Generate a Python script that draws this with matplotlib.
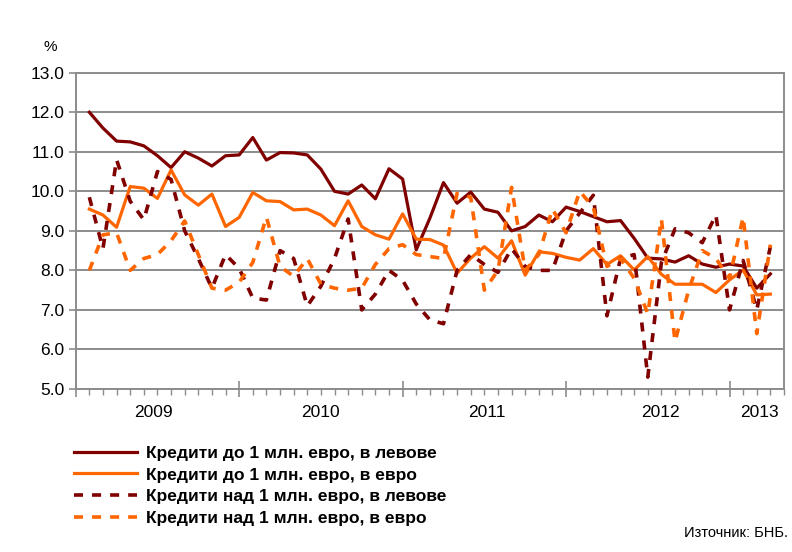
import numpy as np
import matplotlib.pyplot as plt

plt.rcParams['font.family'] = ['Liberation Sans', 'DejaVu Sans']

# monthly observations, positions 1..51 on the category axis
months = np.arange(1, 52)

lev_small = [12.0, 11.6, 11.27, 11.25, 11.15, 10.9, 10.6, 11.0, 10.84, 10.64,
             10.9, 10.92, 11.36, 10.79, 10.98, 10.97, 10.92, 10.56, 10.0, 9.93,
             10.16, 9.81, 10.57, 10.31, 8.52, 9.32, 10.22, 9.70, 9.98, 9.55,
             9.47, 9.0, 9.11, 9.40, 9.23, 9.6, 9.49, 9.36, 9.23, 9.26,
             8.81, 8.31, 8.29, 8.21, 8.37, 8.16, 8.08, 8.16, 8.11, 7.55, 7.91]

eur_small = [9.55, 9.40, 9.09, 10.12, 10.08, 9.82, 10.54, 9.91, 9.65, 9.93,
             9.11, 9.34, 9.97, 9.76, 9.74, 9.53, 9.55, 9.40, 9.13, 9.76,
             9.11, 8.90, 8.79, 9.43, 8.79, 8.78, 8.64, 7.93, 8.31, 8.60,
             8.31, 8.75, 7.88, 8.47, 8.43, 8.33, 8.26, 8.55, 8.15, 8.37,
             8.01, 8.35, 7.90, 7.65, 7.65, 7.65, 7.44, 7.76, 8.01, 7.38, 7.40]

lev_big = [9.85, 8.55, 10.8, 9.75, 9.28, 10.5, 10.3, 9.0, 8.3, 7.55,
           8.4, 8.05, 7.3, 7.25, 8.5, 8.3, 7.1, 7.6, 8.3, 9.3,
           7.0, 7.4, 8.0, 7.75, 7.15, 6.75, 6.65, 8.0, 8.4, 8.15,
           7.95, 8.55, 8.1, 8.0, 8.0, 9.0, 9.45, 9.9, 6.85, 8.3,
           8.4, 5.3, 8.2, 9.05, 8.95, 8.7, 9.4, 7.0, 8.25, 7.0, 8.6]

eur_big = [8.0, 8.9, 8.95, 8.0, 8.3, 8.4, 8.75, 9.25, 8.4, 7.55,
           7.5, 7.7, 8.2, 9.35, 8.1, 7.85, 8.3, 7.65, 7.55, 7.5,
           7.55, 8.15, 8.55, 8.65, 8.4, 8.35, 8.3, 9.95, 9.85, 7.5,
           8.0, 10.1, 8.0, 8.4, 9.55, 8.95, 10.0, 9.6, 8.1, 8.3,
           7.8, 6.9, 9.3, 6.2, 7.5, 8.5, 8.3, 7.8, 9.35, 6.4, 8.65]

labels = ['Кредити до 1 млн. евро, в левове',
          'Кредити до 1 млн. евро, в евро',
          'Кредити над 1 млн. евро, в левове',
          'Кредити над 1 млн. евро, в евро']
years = ['2009', '2010', '2011', '2012', '2013']
year_pos = [5.7, 18.0, 30.2, 42.9, 50.2]

dark = '#800000'
orange = '#ff6600'
grid_col = '#8c8c8c'

fig = plt.figure(figsize=(7.92, 5.52), dpi=100)
ax = fig.add_axes([0.0956, 0.2953, 0.8943, 0.573])

ax.plot(months, lev_small, color=dark, lw=2.3, label=labels[0], zorder=3)
ax.plot(months, eur_small, color=orange, lw=2.3, label=labels[1], zorder=4)
ax.plot(months, lev_big, color=dark, lw=2.6, ls=(0, (2.5, 2.5)),
        label=labels[2], zorder=5)
ax.plot(months, eur_big, color=orange, lw=2.6, ls=(0, (2.5, 2.5)),
        label=labels[3], zorder=6)

ax.set_xlim(0, 52)
ax.set_ylim(5, 13)
ax.set_yticks(np.arange(5, 13.5, 1))
ax.set_yticklabels(['%.1f' % v for v in np.arange(5, 13.5, 1)], fontsize=12.5)
ax.yaxis.grid(True, color=grid_col, lw=1.4)
ax.set_axisbelow(True)
ax.tick_params(axis='y', length=5, color=grid_col, width=1.2, pad=3)

ax.set_xticks([0, 12, 24, 36, 48])
ax.set_xticks(np.arange(0, 53), minor=True)
ax.set_xticklabels([])
ax.tick_params(axis='x', which='major', direction='inout', length=11,
               color=grid_col, width=1.2)
ax.tick_params(axis='x', which='minor', direction='out', length=4.5,
               color=grid_col, width=1.0)
for p, yr in zip(year_pos, years):
    ax.text(p, -0.052, yr, transform=ax.get_xaxis_transform(),
            ha='center', va='top', fontsize=12.5)

for s in ax.spines.values():
    s.set_color(grid_col)
    s.set_linewidth(1.4)

ax.text(-0.036, 1.081, '%', transform=ax.transAxes, ha='center', va='center',
        fontsize=11)

leg = fig.legend(loc='upper left', bbox_to_anchor=(0.085, 0.205),
                 frameon=False, handlelength=3.6, handletextpad=0.55,
                 labelspacing=0.37, borderaxespad=0,
                 prop={'weight': 'bold', 'size': 12.5})

fig.text(0.995, 0.035, 'Източник: БНБ.', ha='right', va='center', fontsize=10.5)

fig.savefig('out.png', dpi=100)
